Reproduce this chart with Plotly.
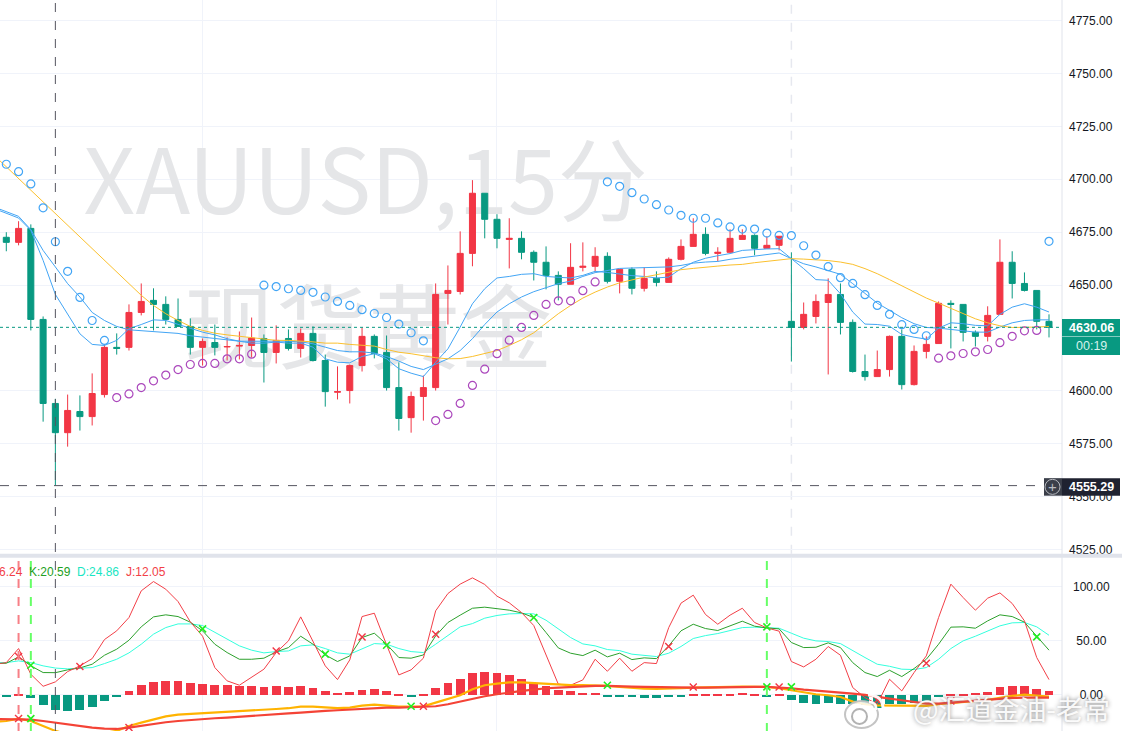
import plotly.graph_objects as go

# ---------- data ----------
bars = list(range(86))
line_bars = [-1] + bars
opens = [4672.6,4670.2,4676.8,4633.8,4594.1,4580.3,4590.3,4587.9,4598.3,4620.6,4620.6,4637.1,4642.8,4640.9,4633.8,4630.5,4620.6,4622.9,4620.8,4621.2,4621.5,4624.8,4618.2,4624.8,4620.1,4627.2,4614.4,4599.4,4600.2,4612.0,4625.8,
4618.2,4601.6,4587.4,4597.4,4601.6,4646.1,4647.0,4665.0,4693.4,4681.1,4671.6,4672.1,4665.5,4660.8,4654.6,4650.4,4658.4,4658.9,4663.6,4651.8,4657.5,4648.5,4653.2,4651.3,4662.2,4668.3,4674.0,4665.0,4665.5,4671.6,
4673.5,4667.4,4668.8,4632.9,4630.0,4635.2,4641.8,4645.6,4632.4,4609.2,4606.8,4610.1,4625.8,4603.0,4618.7,4622.4,4641.4,4640.9,4627.7,4625.8,4636.2,4660.8,4650.8,4647.5,4632.9]
highs = [4675.0,4680.2,4678.7,4635.2,4596.3,4598.3,4597.9,4608.3,4622.0,4627.2,4640.9,4650.8,4648.5,4644.7,4643.7,4634.3,4624.8,4631.4,4625.3,4628.1,4634.7,4626.7,4631.0,4629.1,4629.5,4630.5,4617.2,4611.6,4612.5,4630.0,4626.7,
4626.2,4613.5,4599.7,4607.3,4650.8,4659.3,4675.4,4699.6,4693.4,4683.5,4681.6,4675.4,4666.4,4668.3,4656.5,4669.8,4670.2,4667.9,4665.5,4657.5,4658.4,4658.4,4656.5,4663.1,4671.6,4681.6,4677.3,4667.9,4676.4,4676.4,
4674.0,4673.1,4673.1,4665.5,4641.8,4645.6,4653.2,4650.8,4633.8,4617.2,4619.1,4626.2,4629.1,4621.5,4625.8,4642.3,4642.8,4640.9,4628.6,4640.0,4671.6,4666.0,4656.0,4647.5,4636.2]
lows = [4666.0,4668.8,4628.6,4585.5,4555.29,4573.7,4581.3,4583.7,4596.9,4617.2,4619.1,4635.7,4628.6,4631.4,4630.5,4617.2,4612.0,4616.8,4614.4,4614.9,4615.8,4604.0,4613.0,4619.1,4615.8,4613.9,4592.6,4596.0,4594.1,4609.2,4615.4,
4600.2,4581.3,4580.3,4586.0,4600.2,4631.4,4645.6,4658.9,4672.1,4667.4,4657.9,4662.2,4652.2,4648.0,4642.8,4650.4,4656.5,4656.0,4650.8,4646.1,4645.6,4647.0,4649.4,4651.3,4661.7,4668.3,4664.1,4661.2,4665.5,4671.6,
4664.1,4667.4,4666.4,4613.9,4629.1,4631.9,4607.8,4626.7,4608.7,4604.9,4606.8,4606.8,4600.7,4602.6,4615.4,4622.4,4620.1,4623.4,4621.0,4623.4,4636.2,4643.7,4647.0,4629.1,4625.3]
closes = [4670.2,4676.8,4633.8,4594.1,4580.3,4590.8,4587.9,4598.8,4620.6,4620.1,4637.1,4642.3,4640.9,4633.8,4630.5,4620.6,4623.4,4620.6,4621.0,4621.5,4625.0,4618.2,4623.9,4620.1,4627.2,4614.4,4599.7,4599.7,4612.0,4625.8,4617.7,
4601.6,4587.0,4597.4,4601.6,4645.6,4647.5,4665.0,4693.4,4681.1,4672.1,4672.1,4665.5,4660.8,4654.6,4650.4,4658.4,4658.9,4663.6,4651.8,4657.5,4648.5,4653.2,4651.3,4662.2,4668.3,4674.0,4665.0,4665.5,4672.1,4673.5,
4667.4,4668.8,4673.1,4630.0,4636.2,4642.3,4645.6,4632.4,4609.2,4606.8,4610.1,4625.8,4603.0,4618.7,4622.0,4641.4,4640.9,4627.7,4625.8,4635.7,4660.8,4650.8,4647.5,4632.9,4630.06]

sar_up_idx = [9,10,11,12,13,14,15,16,17,18,19,20,35,36,37,38,39,40,41,42,43,44,45,46,47,48,76,77,78,79,80,81,82,83,84]
sar_up = [4596.9,4598.6,4601.6,4604.8,4607.5,4610.1,4612.5,4613.0,4613.0,4615.2,4615.2,4617.4,4586.0,4588.9,4594.1,4602.6,4610.3,4617.6,4624.0,4630.0,4635.7,4640.9,4642.6,4642.6,4647.4,4651.5,4615.5,4616.6,4617.7,4618.5,4619.6,4622.8,4625.8,4628.4,4628.6]
sar_down_idx = [0,1,2,3,4,5,6,7,8,21,22,23,24,25,26,27,28,29,30,31,32,33,34,49,50,51,52,53,54,55,56,57,58,59,60,61,62,63,64,65,66,67,68,69,70,71,72,73,74,75,85]
sar_down = [4707.1,4703.6,4697.8,4686.5,4670.5,4656.5,4644.2,4633.3,4623.9,4650.0,4649.3,4648.3,4647.5,4646.6,4644.4,4642.3,4640.4,4638.4,4636.6,4634.7,4631.6,4627.5,4623.7,4698.8,4696.7,4693.7,4690.7,4688.0,4685.5,4683.0,4681.6,4681.6,4679.4,4677.5,4676.5,4676.5,4674.6,4673.5,4673.4,4668.6,4664.2,4658.7,4653.5,4650.8,4645.5,4640.4,4636.2,4631.3,4629.1,4626.1,4670.7]

ma_fast = [4686.2,4683.8,4681.7,4675.9,4661.7,4645.6,4636.5,4627.0,4622.0,4621.5,4623.9,4629.4,4631.4,4633.6,4633.3,4631.4,4629.7,4627.8,4626.5,4624.7,4623.5,4622.6,4622.6,4623.1,4622.6,4622.6,4620.7,4615.2,4613.6,4613.3,4616.3,4617.6,
4615.2,4610.5,4608.4,4606.8,4613.6,4619.9,4630.2,4641.2,4648.3,4653.4,4654.1,4655.1,4655.4,4654.1,4653.7,4653.4,4654.6,4656.5,4656.0,4655.1,4654.5,4654.1,4653.4,4653.8,4657.8,4660.8,4662.7,4663.9,4664.9,4666.4,
4666.9,4667.1,4667.2,4662.5,4657.8,4652.6,4652.3,4645.9,4637.3,4631.6,4631.4,4630.6,4626.7,4625.4,4624.5,4629.7,4632.2,4631.8,4631.0,4630.8,4636.2,4639.6,4641.2,4639.6,4637.3]
ma_mid = [4686.9,4684.6,4682.5,4676.2,4666.4,4658.6,4650.7,4644.4,4637.1,4633.3,4630.5,4628.9,4628.4,4628.1,4627.7,4627.2,4626.1,4625.4,4624.7,4623.9,4623.5,4623.5,4623.5,4623.7,4623.5,4623.2,4622.3,4620.7,4619.1,4618.5,4618.5,4617.9,
4616.3,4614.1,4611.6,4610.1,4612.8,4615.2,4619.1,4624.7,4631.4,4637.3,4641.2,4644.4,4646.9,4648.8,4650.7,4651.9,4654.1,4655.9,4657.0,4657.9,4658.1,4658.2,4658.2,4658.6,4659.3,4660.4,4660.9,4661.2,4662.2,4663.0,
4663.8,4664.4,4665.2,4662.5,4660.1,4658.6,4656.7,4655.1,4650.7,4645.9,4641.5,4638.1,4634.6,4631.8,4630.0,4629.7,4629.1,4628.6,4627.8,4627.8,4630.2,4632.2,4633.3,4633.6,4633.6]
ma_slow = [4711.4,4705.9,4700.3,4694.8,4689.3,4683.8,4678.3,4672.7,4667.2,4661.7,4656.2,4650.7,4645.2,4640.4,4636.5,4633.3,4630.5,4628.6,4627.3,4626.5,4625.8,4625.0,4624.3,4623.9,4623.9,4623.7,4623.2,4622.6,4622.6,4622.0,4621.5,4621.2,
4619.6,4618.3,4617.6,4616.5,4615.7,4615.2,4615.3,4616.3,4617.6,4619.1,4621.5,4624.2,4627.5,4632.1,4636.5,4640.4,4643.9,4646.7,4649.1,4651.1,4652.6,4653.8,4654.9,4656.2,4657.3,4657.9,4658.6,4659.0,4659.5,4659.8,
4660.6,4661.2,4661.9,4662.5,4662.3,4662.0,4661.6,4660.9,4659.8,4657.8,4655.4,4652.6,4649.6,4646.7,4643.9,4641.5,4639.0,4636.5,4634.1,4632.2,4630.8,4630.0,4630.0,4630.2,4630.5]

kdj_k = [29.0,29.3,35.2,26.9,20.7,20.59,23.2,25.0,28.4,36.7,42.3,50.6,63.0,72.2,74.1,72.5,67.3,59.3,46.9,39.2,33.0,33.0,34.0,39.8,43.8,54.3,46.9,37.0,30.9,36.1,53.1,57.1,
46.9,34.6,34.0,37.0,54.6,67.0,73.8,80.2,81.2,79.6,78.4,75.9,71.6,57.7,43.5,38.6,36.4,41.4,35.2,38.6,32.7,34.3,33.6,45.4,59.3,65.4,61.4,59.6,64.2,68.2,
63.6,62.0,61.1,48.5,43.8,44.1,48.2,43.8,29.9,20.7,17.0,22.8,17.0,24.4,33.0,46.9,62.7,63.0,61.7,68.5,74.1,72.5,67.3,54.6,41.4]
kdj_d = [29.9,29.9,31.5,29.9,26.9,24.86,24.1,24.7,25.3,29.0,33.0,38.9,46.9,56.2,62.3,65.7,65.7,64.2,57.7,51.5,45.4,41.4,38.9,40.1,40.7,45.4,46.3,42.9,38.9,37.7,42.9,47.5,
46.9,42.9,40.1,39.2,46.9,54.6,63.0,66.0,71.0,73.5,75.0,75.3,75.0,69.1,60.8,53.1,47.2,45.4,42.0,41.0,37.7,36.4,35.5,38.6,44.8,52.2,54.9,56.8,59.9,62.3,
62.7,62.3,61.7,57.1,52.5,50.0,49.4,47.5,40.7,34.6,28.4,26.5,23.8,23.5,25.3,33.0,42.9,50.0,54.3,59.3,63.9,66.7,67.0,63.0,55.2]
kdj_j = [28.4,29.9,42.9,19.1,8.0,12.05,21.6,26.9,33.6,51.2,59.3,71.6,96.3,104.9,97.8,86.4,67.6,54.3,25.3,13.0,9.0,16.1,23.8,39.2,50.0,72.2,50.0,26.9,14.2,32.4,72.5,75.6,
46.3,18.5,23.2,34.0,77.8,93.8,102.5,108.3,102.2,91.4,85.2,76.2,64.2,37.7,9.9,9.0,13.9,33.0,21.9,34.0,21.9,29.9,29.0,62.3,84.9,92.3,74.4,65.4,73.8,80.2,
67.0,62.0,59.0,30.9,25.9,33.0,44.8,36.7,6.8,-2.5,-8.6,14.5,3.7,20.7,36.1,71.6,102.5,90.1,78.4,89.5,94.4,84.6,68.5,34.6,14.2]

macd_hist = [-1.5,1.0,-2.8,-9.3,-13.9,-14.8,-13.9,-11.1,-5.6,-1.0,4.3,9.3,12.0,13.0,13.0,11.1,10.2,9.3,9.3,8.6,8.3,7.4,8.3,7.4,8.3,6.5,3.7,1.9,2.8,4.6,5.6,
3.7,1.0,-1.0,1.0,6.5,11.1,14.8,20.4,21.3,20.4,18.5,14.8,11.1,8.3,4.6,3.7,1.9,1.9,-1.0,-1.0,-2.0,-3.0,-3.0,-2.0,-1.0,1.0,1.0,1.0,1.0,2.0,
1.0,-0.8,0.8,-4.6,-7.4,-8.3,-7.4,-8.3,-8.6,-9.3,-11.7,-8.6,-8.0,-7.4,-5.6,-2.0,1.0,1.0,1.9,2.8,7.4,8.3,8.3,5.6,3.7]
macd_dif = [-22.2,-22.2,-22.2,-22.8,-24.1,-25.6,-27.5,-29.0,-30.2,-31.2,-31.5,-30.2,-28.4,-26.9,-25.3,-24.1,-23.1,-22.5,-21.6,-21.0,-20.1,-19.4,-18.5,-17.6,-17.0,-16.4,-15.4,-14.8,-14.2,-13.6,-13.0,-12.0,
-11.7,-11.7,-11.4,-11.1,-10.5,-8.6,-6.2,-3.4,-1.2,0.6,2.5,3.7,4.9,6.2,6.8,7.4,8.0,8.3,8.3,8.3,7.7,7.4,7.1,6.8,6.8,6.8,6.8,7.1,7.1,7.4,
7.4,7.4,6.8,6.2,4.9,4.0,3.4,2.5,1.2,0.0,-1.9,-3.4,-4.9,-6.2,-8.0,-8.0,-7.1,-6.2,-5.6,-4.6,-3.7,-2.8,-2.5,-2.5,-2.5]
macd_dea = [-25.0,-24.1,-21.9,-24.1,-28.7,-33.3,-36.4,-38.0,-38.0,-35.2,-33.3,-28.7,-25.6,-22.8,-19.8,-18.2,-17.6,-17.3,-16.7,-16.0,-15.4,-14.8,-13.9,-13.0,-12.3,-10.8,-10.8,-11.7,-12.3,-11.7,-9.9,-9.0,
-10.2,-10.8,-10.8,-10.5,-7.1,-3.4,-0.3,5.2,9.0,10.5,11.7,11.7,11.1,10.5,9.3,9.0,9.0,9.0,8.3,7.4,6.5,5.9,5.6,5.6,6.2,6.8,6.8,7.4,7.4,7.7,
7.7,7.4,6.2,4.3,2.2,0.6,-0.3,-1.9,-6.2,-8.6,-9.6,-9.6,-9.9,-10.2,-10.2,-8.6,-7.4,-6.2,-5.6,-4.6,-2.5,-0.9,0.3,-0.3,-1.5]

cross_red_idx = [1,6,22,29,35,54,75,1,10,34,56,63,71,77]
cross_red = [35.5,26.2,40.7,53.7,56.2,44.8,29.3,-21.9,-30.2,-10.5,7.4,7.4,-4.6,-5.6]
cross_green_idx = [2,16,26,31,43,62,84,2,33,49,62,64]
cross_green = [27.5,61.1,37.7,46.0,71.6,63.0,53.7,-21.9,-10.5,9.0,7.4,7.4]

price_ticks_shown = [4775,4750,4725,4700,4675,4650,4600,4575,4550,4525]
osc_ticks = [100,50,0]
last_price = 4630.06
cross_price = 4555.29
grid_bars = [16,40]
session_bar = 64
cross_bar = 4

UP, DOWN = "#F23645", "#089981"
W, H = 1122, 731
PLOT_R, SPLIT_T, SPLIT_B = 1062, 553, 557
xr = lambda p: p / W
yr = lambda p: 1 - p / H

fig = go.Figure()

# watermark lives in a base subplot so the candles paint over it
WM = "#E5E6E8"
fig.add_trace(go.Scatter(x=[29.3, 29.5], y=[4694.0, 4624.5], mode="text",
    text=["XAUUSD,15分", "现货黄金"], textposition="middle center",
    textfont=dict(size=[90, 92], color=WM, family="Noto Sans CJK SC"),
    yaxis="y3", hoverinfo="skip", showlegend=False))

fig.add_trace(go.Candlestick(x=bars, open=opens, high=highs, low=lows, close=closes,
    increasing=dict(line=dict(color=UP, width=1), fillcolor=UP),
    decreasing=dict(line=dict(color=DOWN, width=1), fillcolor=DOWN),
    whiskerwidth=0, yaxis="y", showlegend=False))

for s, c in ((ma_fast, "#42A5F5"), (ma_mid, "#42A5F5"), (ma_slow, "#FBC02D")):
    fig.add_trace(go.Scatter(x=line_bars, y=s, mode="lines", line=dict(color=c, width=1),
                             yaxis="y", showlegend=False))
fig.add_trace(go.Scatter(x=sar_down_idx, y=sar_down, mode="markers", yaxis="y", showlegend=False,
    marker=dict(symbol="circle-open", size=8, color="#42A5F5", line=dict(width=1.2))))
fig.add_trace(go.Scatter(x=sar_up_idx, y=sar_up, mode="markers", yaxis="y", showlegend=False,
    marker=dict(symbol="circle-open", size=8, color="#AB47BC", line=dict(width=1.2))))

# lower pane
fig.add_trace(go.Bar(x=bars, y=macd_hist, width=0.72, yaxis="y2", showlegend=False,
    marker=dict(color=[UP if v > 0 else DOWN for v in macd_hist], line=dict(width=0))))
for s, c, w in ((kdj_d, "#33FFDD", 1), (kdj_k, "#2CA02C", 1), (kdj_j, "#F23F47", 1),
                (macd_dea, "#FFB300", 2.2), (macd_dif, "#F44336", 2.2)):
    fig.add_trace(go.Scatter(x=line_bars, y=s, mode="lines", line=dict(color=c, width=w),
                             yaxis="y2", showlegend=False))
fig.add_trace(go.Scatter(x=cross_red_idx, y=cross_red, mode="markers", yaxis="y2", showlegend=False,
    marker=dict(symbol="x-thin", size=7, line=dict(width=1.4, color="#F23645"))))
fig.add_trace(go.Scatter(x=cross_green_idx, y=cross_green, mode="markers", yaxis="y2", showlegend=False,
    marker=dict(symbol="x-thin", size=7, line=dict(width=1.6, color="#22EE22"))))

shapes = [
    dict(type="line", xref="x", yref="paper", x0=session_bar, x1=session_bar, y0=yr(SPLIT_T), y1=1,
         line=dict(color="#E6E8EF", width=1.5, dash="dash"), layer="below"),
    dict(type="line", xref="x", yref="paper", x0=session_bar, x1=session_bar, y0=0, y1=yr(SPLIT_B),
         line=dict(color="#F0F3FA", width=1), layer="below"),
    dict(type="line", xref="paper", yref="y", x0=0, x1=xr(PLOT_R), y0=last_price, y1=last_price,
         line=dict(color=DOWN, width=1, dash="dot")),
    dict(type="line", xref="x", yref="paper", x0=1, x1=1, y0=0, y1=yr(SPLIT_B),
         line=dict(color="#F77F86", width=2, dash="dash")),
    dict(type="line", xref="x", yref="paper", x0=2, x1=2, y0=0, y1=yr(SPLIT_B),
         line=dict(color="#66FF66", width=2, dash="dash")),
    dict(type="line", xref="x", yref="paper", x0=62, x1=62, y0=0, y1=yr(SPLIT_B),
         line=dict(color="#66FF66", width=2, dash="dash")),
    dict(type="line", xref="x", yref="paper", x0=cross_bar, x1=cross_bar, y0=0, y1=1,
         line=dict(color="#555560", width=1, dash="dash")),
    dict(type="line", xref="paper", yref="y", x0=0, x1=xr(PLOT_R), y0=cross_price, y1=cross_price,
         line=dict(color="#555560", width=1, dash="dash")),
    dict(type="line", xref="paper", yref="paper", x0=xr(PLOT_R), x1=xr(PLOT_R), y0=0, y1=1,
         line=dict(color="#E0E3EB", width=1)),
    dict(type="line", xref="paper", yref="paper", x0=0, x1=1, y0=yr(555), y1=yr(555),
         line=dict(color="#E0E3EB", width=4)),
    dict(type="rect", xref="paper", yref="paper", x0=xr(1062), x1=xr(1120), y0=yr(318.5), y1=yr(336),
         fillcolor=DOWN, line_width=0),
    dict(type="rect", xref="paper", yref="paper", x0=xr(1062), x1=xr(1120), y0=yr(336.5), y1=yr(354.5),
         fillcolor=DOWN, line_width=0),
    dict(type="rect", xref="paper", yref="paper", x0=xr(1044), x1=xr(1062), y0=yr(477.5), y1=yr(495),
         fillcolor="#3A3E49", line_width=0),
    dict(type="rect", xref="paper", yref="paper", x0=xr(1062), x1=xr(1120), y0=yr(477.5), y1=yr(495),
         fillcolor="#1F2230", line_width=0),
    dict(type="circle", xref="paper", yref="paper", x0=xr(1045), x1=xr(1060), y0=yr(478.7), y1=yr(493.7),
         line=dict(color="#B8BAC0", width=1), fillcolor="rgba(0,0,0,0)"),
    # weibo mark
    dict(type="circle", xref="paper", yref="paper", x0=xr(845), x1=xr(878), y0=yr(700), y1=yr(727),
         fillcolor="rgba(255,255,255,0.85)", line=dict(color="rgba(190,190,190,0.9)", width=2)),
    dict(type="circle", xref="paper", yref="paper", x0=xr(852), x1=xr(867), y0=yr(708), y1=yr(723),
         fillcolor="rgba(255,255,255,0.9)", line=dict(color="rgba(170,170,170,0.9)", width=2)),
    dict(type="path", xref="paper", yref="paper",
         path=f"M {xr(868)} {yr(694)} Q {xr(884)} {yr(694)} {xr(883)} {yr(710)}",
         line=dict(color="rgba(255,255,255,0.95)", width=3)),
    dict(type="path", xref="paper", yref="paper",
         path=f"M {xr(869)} {yr(701)} Q {xr(877)} {yr(701)} {xr(876)} {yr(709)}",
         line=dict(color="rgba(255,255,255,0.95)", width=2.5)),
]

def label(x, y, text, color, size=12, anchor="center", **kw):
    return dict(xref="paper", yref="paper", x=xr(x), y=yr(y), text=text, showarrow=False,
                xanchor=anchor, yanchor="middle",
                font=dict(family="Liberation Sans", size=size, color=color, **kw))

annotations = [
    label(1091, 327.5, "4630.06", "#FFFFFF", 12.5, weight="bold"),
    label(1091, 345.5, "00:19", "#D5F2EC", 12.5),
    label(1091, 486, "4555.29", "#FFFFFF", 12.5, weight="bold"),
    label(1052.5, 485.5, "+", "#B8BAC0", 15),
    label(-3, 571, "6.24", "#F23F47", 12, "left"),
    label(27, 571, "K:20.59", "#22A022", 12, "left"),
    label(75, 571, "D:24.86", "#19E6C3", 12, "left"),
    label(124, 571, "J:12.05", "#F23F47", 12, "left"),
    dict(xref="paper", yref="paper", x=xr(1112), y=yr(708), text="@汇道金油-老常", showarrow=False,
         xanchor="right", yanchor="middle",
         font=dict(family="Noto Sans CJK SC", size=27, color="rgba(255,255,255,0.92)",
                   shadow="0 0 4px #777777")),
]

tick_font = dict(family="Liberation Sans", size=12, color="#131722")
x_range = [-0.514, 86.06]
price_range = [4523.1, 4784.7]
fig.update_layout(
    width=W, height=735, margin=dict(l=0, r=0, t=0, b=0), autosize=False,
    paper_bgcolor="#FFFFFF", plot_bgcolor="#FFFFFF", bargap=0, hovermode=False,
    showlegend=False, shapes=shapes, annotations=annotations,
    xaxis=dict(domain=[0, xr(PLOT_R)], range=x_range, anchor="y2", rangeslider=dict(visible=False),
               tickvals=grid_bars, showticklabels=False, ticks="", showgrid=True,
               gridcolor="#F0F3FA", gridwidth=1, zeroline=False, showline=False),
    yaxis=dict(domain=[yr(SPLIT_T), 1], range=price_range, side="right", anchor="x", overlaying="y3",
               tickvals=price_ticks_shown, ticktext=[f"{v:.2f}" for v in price_ticks_shown],
               tickfont=tick_font, ticks="", ticklabelstandoff=6, showgrid=True, gridcolor="#F0F3FA",
               gridwidth=1, zeroline=False, showline=False),
    yaxis2=dict(domain=[0, yr(SPLIT_B)], range=[-34.3, 126.9], side="right", anchor="x",
                tickvals=osc_ticks,
                ticktext=[("\u00a0" * (6 - len(f"{v:.2f}"))) + f"{v:.2f}" for v in osc_ticks],
                tickfont=tick_font, ticks="", ticklabelstandoff=10, showgrid=True, gridcolor="#F0F3FA",
                gridwidth=1, zeroline=False, showline=False),
    yaxis3=dict(domain=[yr(SPLIT_T), 1], range=price_range, anchor="x", visible=False),
)

fig.write_html("out.html", config={"displayModeBar": False},
    post_script="var s=document.createElement('style');s.textContent='html,body{margin:0;padding:0;height:731px;overflow:hidden}';document.head.appendChild(s);")
